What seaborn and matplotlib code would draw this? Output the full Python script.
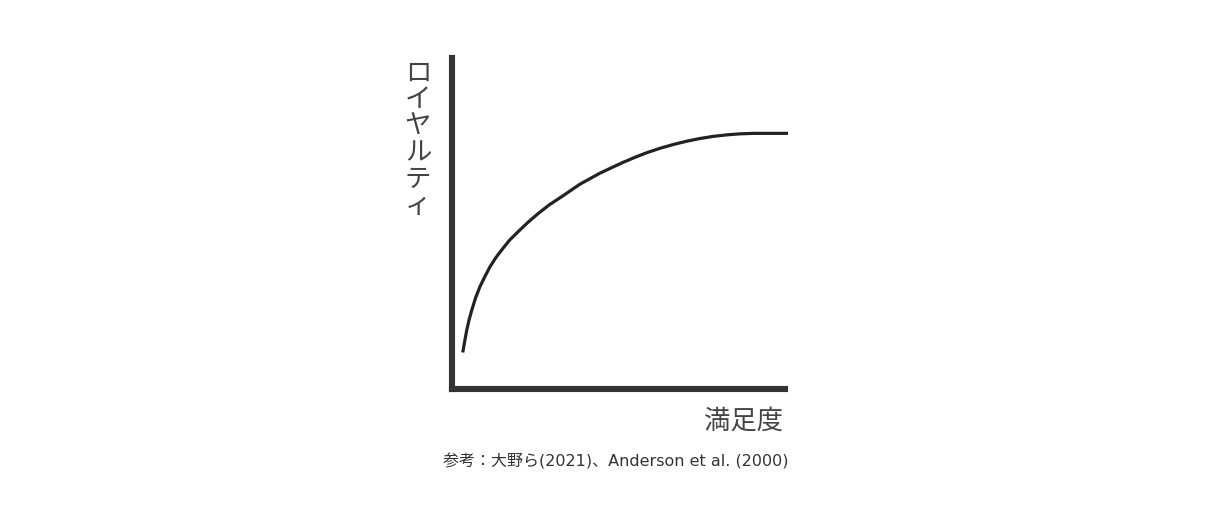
import matplotlib
matplotlib.use("Agg")
import matplotlib.pyplot as plt
import seaborn as sns
import pandas as pd

# Data (satisfaction vs loyalty, 0-100 scale)
satisfaction = [3.2, 3.8, 4.4, 5.1, 5.9, 7.0, 8.3, 9.8, 11.3, 13.0, 14.8, 17.1, 19.7, 22.6, 25.7,
                29.0, 32.6, 38.1, 44.0, 48.0, 51.0, 54.5, 57.9, 61.9, 65.9, 69.9, 73.8, 77.8,
                81.8, 85.7, 89.7, 100.0]
loyalty = [11.0, 14.5, 17.8, 20.9, 23.8, 27.4, 30.8, 33.9, 36.8, 39.5, 41.9, 44.8, 47.4, 50.2, 52.9,
           55.5, 57.9, 61.7, 65.0, 66.9, 68.3, 69.8, 71.15, 72.5, 73.65, 74.65, 75.45, 76.1,
           76.55, 76.85, 77.0, 77.0]

y_label = "ロイヤルティ"
x_label = "満足度"
caption = "参考：大野ら(2021)、Anderson et al. (2000)"

sns.set_theme(style="white")
plt.rcParams['font.family'] = ['Noto Sans CJK JP', 'DejaVu Sans']

df = pd.DataFrame({"satisfaction": satisfaction, "loyalty": loyalty})

fig = plt.figure(figsize=(12.32, 5.08), dpi=100)
ax = fig.add_axes([452 / 1232, (508 - 389) / 508, 336 / 1232, 332 / 508])

sns.lineplot(data=df, x="satisfaction", y="loyalty", ax=ax, color="#222222",
             linewidth=2.3, sort=False, solid_joinstyle="round", solid_capstyle="butt")

ax.set_xlim(0, 100)
ax.set_ylim(0, 100)
ax.set_xticks([])
ax.set_yticks([])
ax.set_xlabel("")
ax.set_ylabel("")
for s in ["top", "right"]:
    ax.spines[s].set_visible(False)
for s in ["left", "bottom"]:
    ax.spines[s].set_color("#333333")
    ax.spines[s].set_linewidth(4.4)
    ax.spines[s].set_capstyle("projecting")
ax.spines["bottom"].set_bounds(0, 99.1)
ax.spines["left"].set_bounds(0, 99.7)
ax.patch.set_alpha(0)

fig.text(418 / 1232, 1 - 60 / 508, "\n".join(y_label), ha="center", va="top",
         fontsize=19, color="#444444", linespacing=0.97)
fig.text(783 / 1232, 1 - 421 / 508, x_label, ha="right", va="center",
         fontsize=19, color="#444444")
fig.text(616 / 1232, 1 - 461 / 508, caption, ha="center", va="center",
         fontsize=11.5, color="#333333", family=['DejaVu Sans', 'Noto Sans CJK JP'])

fig.savefig("out.png", dpi=100)
